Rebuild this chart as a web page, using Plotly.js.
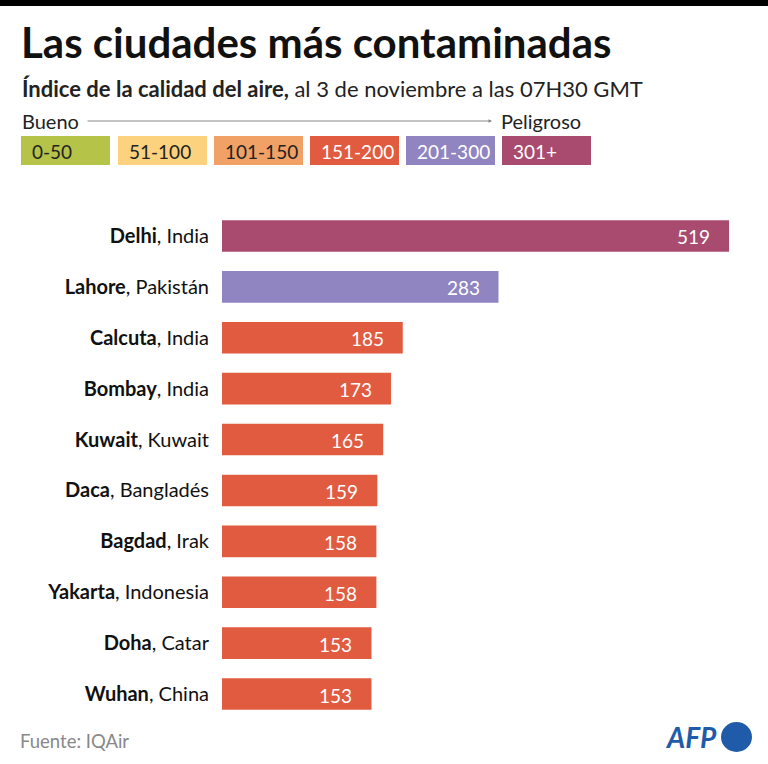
<!DOCTYPE html>
<html>
<head>
<meta charset="utf-8">
<script src="https://cdn.plot.ly/plotly-3.0.1.min.js"></script>
<style>
  html, body { margin: 0; padding: 0; background: #fff; }
  #chart { width: 768px; height: 764px; }
</style>
</head>
<body>
<div id="chart"></div>
<script>
// Air quality index, most polluted cities
const cities = ["Delhi", "Lahore", "Calcuta", "Bombay", "Kuwait", "Daca", "Bagdad", "Yakarta", "Doha", "Wuhan"];
const countries = ["India", "Pakistán", "India", "India", "Kuwait", "Bangladés", "Irak", "Indonesia", "Catar", "China"];
const aqi = [519, 283, 185, 173, 165, 159, 158, 158, 153, 153];

// AQI bands (scale legend)
const bandLabels = ["0-50", "51-100", "101-150", "151-200", "201-300", "301+"];
const bandUpper = [50, 100, 150, 200, 300, Infinity];
const bandColors = ["#B5C348", "#FDD27F", "#F1A066", "#E05B3F", "#9085C0", "#A84B6E"];
const bandTextColors = ["#222", "#222", "#222", "#fff", "#fff", "#fff"];

const W = 768, H = 764;
const FONT = "Lato, 'Noto Sans', sans-serif";
const px = x => x / W;
const py = y => 1 - y / H;

const bandOf = v => bandUpper.findIndex(u => v <= u);
const labels = cities.map((c, i) => "<b>" + c + "</b>, " + countries[i]);
const barColors = aqi.map(v => bandColors[bandOf(v)]);

const trace = {
  type: "bar",
  orientation: "h",
  x: aqi,
  y: labels,
  marker: { color: barColors, line: { width: 0 } },
  hoverinfo: "skip"
};

const shapes = [
  // black band along the top edge
  { type: "rect", xref: "paper", yref: "paper", x0: 0, x1: 1, y0: py(6), y1: 1,
    fillcolor: "#000", line: { width: 0 } },
  // AFP logo disc
  { type: "circle", xref: "paper", yref: "paper", x0: px(721), x1: px(752), y0: py(752), y1: py(722),
    fillcolor: "#1F5BA8", line: { width: 0 } }
];

const annotations = [
  { text: "<b>Las ciudades más contaminadas</b>", xref: "paper", yref: "paper",
    x: px(19), y: py(42), xanchor: "left", yanchor: "middle", showarrow: false,
    font: { family: FONT, size: 42, color: "#111" } },
  { text: "<b>Índice de la calidad del aire,</b> al 3 de noviembre a las 07H30 GMT", xref: "paper", yref: "paper",
    x: px(20), y: py(88), xanchor: "left", yanchor: "middle", showarrow: false,
    font: { family: FONT, size: 22, color: "#222" } },
  { text: "Bueno", xref: "paper", yref: "paper", x: px(20), y: py(121),
    xanchor: "left", yanchor: "middle", showarrow: false,
    font: { family: FONT, size: 20, color: "#222" } },
  { text: "Peligroso", xref: "paper", yref: "paper", x: px(499), y: py(121),
    xanchor: "left", yanchor: "middle", showarrow: false,
    font: { family: FONT, size: 20, color: "#222" } },
  // scale arrow from "Bueno" to "Peligroso"
  { text: "", xref: "paper", yref: "paper", x: px(492), y: py(121),
    axref: "pixel", ayref: "pixel", ax: -406, ay: 0, showarrow: true,
    arrowhead: 2, arrowsize: 0.7, arrowwidth: 1, arrowcolor: "#888" },
  { text: "Fuente: IQAir", xref: "paper", yref: "paper", x: px(18), y: py(741),
    xanchor: "left", yanchor: "middle", showarrow: false,
    font: { family: FONT, size: 18.5, color: "#888" } },
  { text: "<b><i>AFP</i></b>", xref: "paper", yref: "paper", x: px(719), y: py(737),
    xanchor: "right", yanchor: "middle", showarrow: false,
    font: { family: FONT, size: 28, color: "#1F5BA8" } }
];

// Band legend boxes
const boxX = [21, 118, 214, 310, 406, 502];
const boxW = 89;
bandLabels.forEach((lab, i) => {
  shapes.push({ type: "rect", xref: "paper", yref: "paper",
    x0: px(boxX[i]), x1: px(boxX[i] + boxW), y0: py(165), y1: py(136),
    fillcolor: bandColors[i], line: { width: 0 } });
  annotations.push({ text: lab, xref: "paper", yref: "paper",
    x: px(boxX[i] + 9), y: py(151), xanchor: "left", yanchor: "middle", showarrow: false,
    font: { family: FONT, size: 19, color: bandTextColors[i] } });
});

// Value labels inside the bar ends
aqi.forEach((v, i) => {
  annotations.push({ text: String(v), xref: "x", yref: "y", x: v, y: labels[i],
    xanchor: "right", yanchor: "middle", xshift: -17, yshift: -1, showarrow: false,
    font: { family: FONT, size: 19, color: "#fff" } });
});

const layout = {
  width: W, height: H,
  margin: { l: 0, r: 0, t: 0, b: 0 },
  paper_bgcolor: "#fff",
  plot_bgcolor: "#fff",
  showlegend: false,
  bargap: 0.38,
  xaxis: {
    domain: [px(222), px(749.6)],
    range: [0, 540],
    visible: false,
    fixedrange: true
  },
  yaxis: {
    domain: [py(719.5), py(210.5)],
    autorange: "reversed",
    showgrid: false, zeroline: false, showline: false,
    ticks: "",
    ticklabelstandoff: 12,
    tickfont: { family: FONT, size: 20, color: "#111" },
    automargin: false,
    fixedrange: true
  },
  shapes: shapes,
  annotations: annotations
};

Plotly.newPlot("chart", [trace], layout, { displayModeBar: false, staticPlot: true });
</script>
</body>
</html>
